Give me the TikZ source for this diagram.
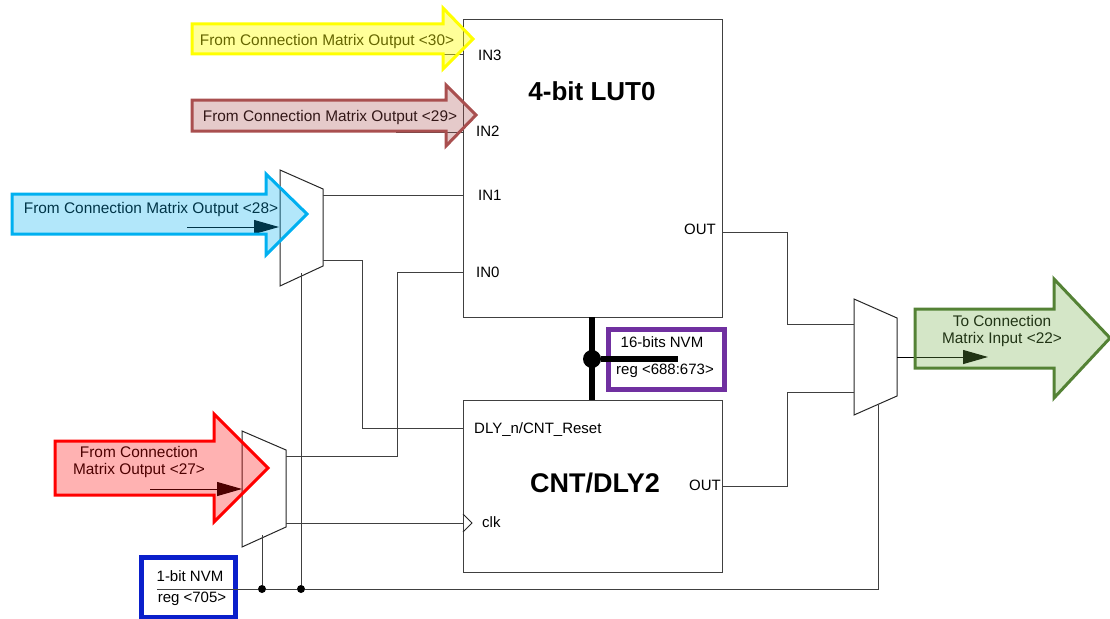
\documentclass[tikz,border=0pt]{standalone}
\usepackage{fontspec}
\setmainfont{Liberation Sans}
\usepackage{tikz}
\usetikzlibrary{arrows.meta}

\definecolor{cyellow}{HTML}{FFFF00}
\definecolor{cbrown}{HTML}{A94F4F}
\definecolor{ccyan}{HTML}{00B0F0}
\definecolor{cgreen}{HTML}{548235}
\definecolor{cgreenfill}{HTML}{70AD47}
\definecolor{cpurple}{HTML}{7030A0}
\definecolor{cblue}{HTML}{0A1FCB}

\begin{document}
\begin{tikzpicture}[
  x=1pt,y=-1pt,
  blockbox/.style={draw=black!75,line width=1pt,anchor=north west,inner sep=0pt},
  muxshape/.style={draw=black!85,line width=1pt,line join=miter},
  wire/.style={draw=black!75,line width=1pt},
  pinlabel/.style={font=\fontsize{15}{17}\selectfont,inner sep=0pt},
  arrowlabel/.style={font=\fontsize{15.4}{16.5}\selectfont,align=center,inner sep=0pt},
  bigarrow/.style={line width=3pt,fill opacity=.3,line join=miter},
  inarrow/.style={draw=black,line width=1pt,-{Triangle[length=25pt,width=14pt]}},
  regbox/.style={line width=5pt,anchor=north west,inner sep=0pt},
  joint/.style={circle,fill=black,inner sep=0pt,minimum size=8pt}
]
\useasboundingbox (0,0) rectangle (1110,618);
% blocks
\node[blockbox,minimum width=259pt,minimum height=297pt] (lut) at (462.5,19.5) {};
\node[blockbox,minimum width=259pt,minimum height=172pt] (cnt) at (462.5,399.5) {};
\node[font=\fontsize{26}{30}\selectfont\bfseries] (luttitle) at (592,91) {4-bit LUT0};
\node[font=\fontsize{27}{30}\selectfont\bfseries] (cnttitle) at (595,483) {CNT/DLY2};
% pins
\node[pinlabel,anchor=west] (in3) at (478,55) {IN3};
\node[pinlabel,anchor=west] (in2) at (476,131) {IN2};
\node[pinlabel,anchor=west] (in1) at (478,195) {IN1};
\node[pinlabel,anchor=west] (in0) at (476,272) {IN0};
\node[pinlabel,anchor=east] (lutout) at (716,229) {OUT};
\node[pinlabel,anchor=west] (dly) at (474,430) {DLY\_n/CNT\_Reset};
\node[pinlabel,anchor=west] (clk) at (482,522) {clk};
\node[pinlabel,anchor=east] (cntout) at (721,485) {OUT};
% muxes
\draw[muxshape] (280,170) -- (323,189) -- (323,266) -- (280,286) -- cycle;
\draw[muxshape] (242,431) -- (286,450) -- (286,527) -- (242,547) -- cycle;
\draw[muxshape] (854,299) -- (897,318) -- (897,396) -- (854,415) -- cycle;
\coordinate (muxAa) at (323,195);
\coordinate (muxAb) at (323,260);
\coordinate (muxAs) at (301,273);
\coordinate (muxBa) at (286,456);
\coordinate (muxBb) at (286,523);
\coordinate (muxBs) at (262,535);
\coordinate (muxCa) at (854,324);
\coordinate (muxCb) at (854,392);
\coordinate (muxCs) at (878,405);
% wires
\coordinate (w3) at (396,55);
\coordinate (w2) at (396,132);
\coordinate (lutw) at (722,232);
\coordinate (cntw) at (722,486);
\coordinate (dlyw) at (463,428);
\draw[wire] (w3) -- (w3 -| lut.west);
\draw[wire] (w2) -- (w2 -| lut.west);
\draw[wire] (muxAa) -- (muxAa -| lut.west);
\draw[wire] (muxAb) -- (362,260) |- (dlyw);
\draw[wire] (muxBa) -- (397,456) |- (lut.west |- in0);
\draw[wire] (muxBb) -- (muxBb -| cnt.west);
\draw[muxshape] (463,514) -- (472,523) -- (463,532);
\draw[wire] (lutw) -| (787,324) -- (muxCa);
\draw[wire] (cntw) -| (787,392) -- (muxCb);
% regs
\node[regbox,draw=cblue,fill=white,minimum width=94pt,minimum height=60pt] (nvmone) at (139,555) {};
\node[regbox,draw=cpurple,minimum width=116pt,minimum height=60pt] (nvmbus) at (606,327) {};
\node[pinlabel] (nvmonea) at (190,576) {1-bit NVM};
\node[pinlabel] (nvmoneb) at (192,599) {reg <705>};
\node[pinlabel] (nvmbusa) at (662,342) {16-bits NVM};
\node[pinlabel] (nvmbusb) at (665,371) {reg <688:673>};
\node[joint] (jA) at (262,589) {};
\node[joint] (jB) at (301,589) {};
\draw[wire] (157,589) -- (jA) -- (jB) -- (878,589) -- (muxCs);
\draw[wire] (muxBs) -- (jA);
\draw[wire] (muxAs) -- (jB);
% bus
\node[circle,fill=black,inner sep=0pt,minimum size=18pt] (busdot) at (592,359) {};
\coordinate (busend) at (678,359);
\draw[line width=6pt] (busdot |- 0,317) -- (busdot |- 0,400);
\draw[line width=6pt] (busdot) -- (busend);
% arrows
\node[arrowlabel] (txt30) at (327,42) {From Connection Matrix Output <30>};
\node[arrowlabel] (txt29) at (330,118) {From Connection Matrix Output <29>};
\node[arrowlabel] (txt28) at (151,210) {From Connection Matrix Output <28>};
\node[arrowlabel] (txt27) at (139,462) {From Connection\\Matrix Output <27>};
\node[arrowlabel] (txt22) at (1002,331) {To Connection\\Matrix Input <22>};
\draw[inarrow] (187,227) -- (279,227);
\draw[inarrow] (150,489) -- (242,489);
\draw[inarrow] (897,357) -- (988,357);
\draw[bigarrow,draw=cyellow,fill=cyellow,fill opacity=.4] (192,24) -- (443,24) -- (443,8) -- (473,39) -- (443,69) -- (443,54) -- (192,54) -- cycle;
\draw[bigarrow,draw=cbrown,fill=cbrown] (192,100) -- (446,100) -- (446,85) -- (476,115) -- (446,146) -- (446,131) -- (192,131) -- cycle;
\draw[bigarrow,draw=ccyan,fill=ccyan] (12,194) -- (266,194) -- (266,174) -- (307,214) -- (266,255) -- (266,234) -- (12,234) -- cycle;
\draw[bigarrow,draw=red,fill=red] (55,441) -- (214,441) -- (214,414) -- (268,468) -- (214,522) -- (214,495) -- (55,495) -- cycle;
\draw[bigarrow,draw=cgreen,fill=cgreenfill] (915,309) -- (1054,309) -- (1054,279) -- (1110,338) -- (1054,398) -- (1054,368) -- (915,368) -- cycle;
\end{tikzpicture}
\end{document}
